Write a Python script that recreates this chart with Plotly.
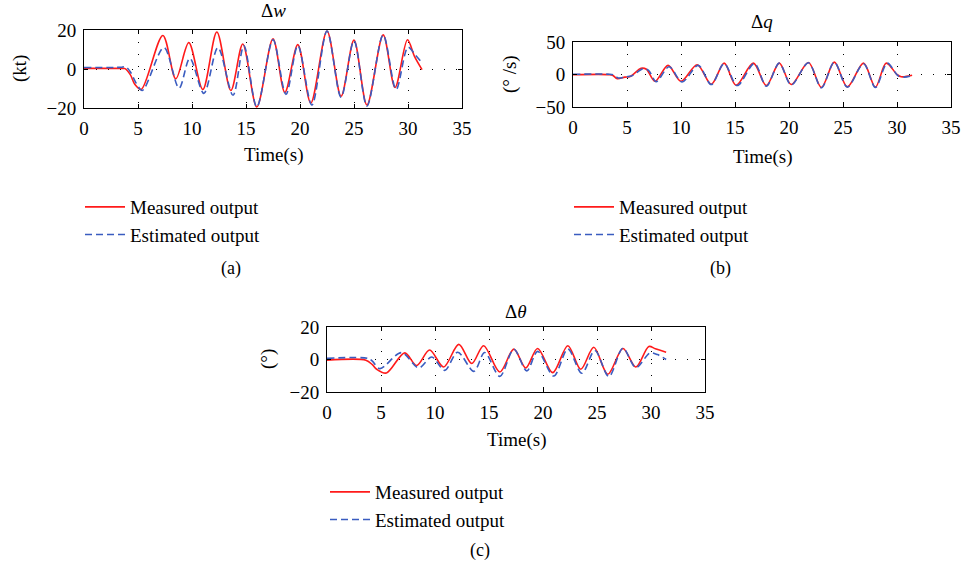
import plotly.graph_objects as go

# ---------------- data ----------------
# Panel (a): delta w (kt)
a_meas_t = [0, 3.5, 3.8, 4.3, 4.7, 5.3, 7.3, 8.5, 9.7, 11.0, 12.3, 13.6, 14.7, 16.0, 17.5, 18.6,
            19.8, 21.0, 22.5, 23.8, 25.0, 26.2, 27.7, 28.8, 29.95, 30.6, 31.3]
a_meas_v = [0.3, 0.3, 0.2, -3, -7.8, -10.5, 17.2, -5, 13.5, -10.5, 19, -11, 12.8, -19.5, 15.5, -12,
            12.5, -17.5, 19.5, -14, 14.8, -18.5, 17.5, -9.5, 15, 6.5, -0.3]
a_est_t = [0, 3.5, 3.85, 4.3, 4.8, 5.4, 7.4, 8.8, 9.8, 11.1, 12.4, 13.8, 14.8, 16.0, 17.5, 18.7,
           19.8, 21.1, 22.5, 23.8, 25.0, 26.2, 27.7, 28.9, 30.0, 30.7, 31.3]
a_est_v = [0.8, 0.9, 1.2, -1.5, -7, -11, 11, -9.8, 5.5, -12.5, 11, -13.5, 12, -19.5, 15, -13,
           12, -18.5, 19.5, -14.5, 14.5, -19, 17.5, -10.5, 11.2, 7, 3.2]

# Panel (b): delta q (deg/s)
b_meas_t = [0, 3.4, 3.7, 4.1, 4.8, 5.3, 6.3, 6.8, 7.6, 8.8, 10.0, 11.5, 12.8, 14.0, 15.1, 16.7,
            17.9, 19.1, 20.2, 21.8, 23.0, 24.2, 25.4, 26.9, 28.0, 29.0, 30.0, 30.4, 31.4]
b_meas_v = [-0.3, -0.3, -1.5, -6.5, -4, -3, 9.5, 8, -10.5, 14, -10.5, 15, -15, 17.5, -16.5, 17.5,
            -17, 17.5, -15.5, 18.5, -20, 19, -19, 17.5, -19.5, 17.5, 0, -3.5, -1.3]
b_est_t = [0, 3.4, 3.8, 4.2, 4.9, 5.4, 6.5, 7.0, 7.7, 8.9, 10.1, 11.6, 12.8, 14.0, 15.2, 16.8,
           17.9, 19.1, 20.2, 21.8, 23.0, 24.2, 25.4, 26.9, 28.0, 29.1, 30.1, 30.7, 31.4]
b_est_v = [0.3, 0.3, -1, -5.5, -3.5, -2.5, 9, 6.5, -11, 12, -11.5, 14, -15.5, 17, -17, 17,
           -18, 17.5, -16, 18, -20.5, 19, -19.5, 16.5, -20, 17.5, -2, -4, -1.5]

# Panel (c): delta theta (deg)
c_meas_t = [0, 3.6, 4.2, 4.6, 5.5, 7.2, 8.3, 9.5, 10.8, 12.2, 13.4, 14.5, 16.0, 17.3, 18.4, 19.5,
            20.9, 22.3, 23.5, 24.7, 26.0, 27.4, 28.6, 29.8, 30.4, 31.4]
c_meas_v = [-0.4, -0.4, -3.2, -6, -8.3, 4.1, -3.7, 5.8, -4.6, 9.3, -2.5, 8.5, -7.7, 6.4, -5.2, 6.8,
            -8.1, 8.5, -6, 7.5, -9.1, 6.8, -4.6, 8, 6.6, 4.5]
c_est_t = [0, 3.8, 4.2, 4.9, 6.9, 8.5, 9.7, 10.9, 12.1, 13.6, 14.6, 16.0, 17.3, 18.5, 19.5,
           21.0, 22.3, 23.6, 24.8, 26.1, 27.4, 28.6, 29.9, 30.6, 31.4]
c_est_v = [0.7, 0.7, -1, -5.6, 4.2, -5.2, 1.5, -6.7, 4.5, -7.3, 4.3, -10.4, 6.3, -7, 5,
           -10.2, 6.5, -8.5, 5.5, -10.5, 7, -5, 4, 3, 0]

x_ticks = [0, 5, 10, 15, 20, 25, 30, 35]
a_yticks = [-20, 0, 20]
b_yticks = [-50, 0, 50]
c_yticks = [-20, 0, 20]

titles = ["Δ<i>w</i>", "Δ<i>q</i>", "Δ<i>θ</i>"]
ylabels = ["(kt)", "(° /s)", "(°)"]
captions = ["(a)", "(b)", "(c)"]
series_names = ["Measured output", "Estimated output"]

# ---------------- styling ----------------
W, H = 962, 571
FONT = "Liberation Serif"
FS = 19
RED = "#ff1a1a"
BLUE = "#3a5cc0"

def px(x):
    return x / W

def py(y):
    return 1 - y / H

# panel boxes in pixels: (left, right, top, bottom)
boxes = [(84, 462, 30, 108), (573, 951, 42, 107), (327, 705, 327, 392)]
yranges = [[-20, 20], [-50, 50], [-20, 20]]
yticks = [a_yticks, b_yticks, c_yticks]
data = [(a_meas_t, a_meas_v, a_est_t, a_est_v),
        (b_meas_t, b_meas_v, b_est_t, b_est_v),
        (c_meas_t, c_meas_v, c_est_t, c_est_v)]
legend_names = ["legend", "legend2", "legend3"]
legend_pos = [(80, 188), (569, 188), (325, 473)]
title_pos = [(273, 10), (762, 22), (516, 312)]
ylabel_pos = [(20, 69), (510, 74), (268, 359)]
xlabel_pos = [(273, 155), (762, 157), (516, 440)]
caption_pos = [(231, 268), (720, 268), (480, 550)]

fig = go.Figure()
layout = dict(width=W, height=H, autosize=False,
              margin=dict(l=0, r=0, t=0, b=0, autoexpand=False),
              paper_bgcolor="white", plot_bgcolor="white",
              font=dict(family=FONT, size=FS, color="black"),
              annotations=[])

for i in range(3):
    mt, mv, et, ev = data[i]
    sfx = "" if i == 0 else str(i + 1)
    fig.add_trace(go.Scatter(x=mt, y=mv, mode="lines", name=series_names[0],
                             line=dict(color=RED, width=1.6, shape="spline", smoothing=0.9),
                             xaxis="x" + sfx, yaxis="y" + sfx, legend=legend_names[i]))
    fig.add_trace(go.Scatter(x=et, y=ev, mode="lines", name=series_names[1],
                             line=dict(color=BLUE, width=1.6, dash="7px,4px", shape="spline", smoothing=0.9),
                             xaxis="x" + sfx, yaxis="y" + sfx, legend=legend_names[i]))
    l, r, t, b = boxes[i]
    common = dict(showline=True, linecolor="black", linewidth=1, mirror="allticks",
                  ticks="inside", ticklen=4, tickcolor="black",
                  showgrid=True, gridcolor="black", gridwidth=1, griddash="1px,11px",
                  zeroline=False, tickfont=dict(family=FONT, size=FS, color="black"),
                  ticklabelstandoff=3, automargin=False)
    layout["xaxis" + sfx] = dict(common, domain=[px(l), px(r)], range=[0, 35],
                                 tickvals=x_ticks, anchor="y" + sfx)
    layout["yaxis" + sfx] = dict(common, domain=[py(b), py(t)], range=yranges[i],
                                 tickvals=yticks[i], anchor="x" + sfx)
    lx, ly = legend_pos[i]
    layout[legend_names[i]] = dict(x=px(lx), y=py(ly), xanchor="left", yanchor="top",
                                   bgcolor="rgba(0,0,0,0)", borderwidth=0,
                                   font=dict(family=FONT, size=FS, color="black"),
                                   tracegroupgap=0, itemwidth=40)
    tx, ty = title_pos[i]
    layout["annotations"].append(dict(x=px(tx), y=py(ty), xref="paper", yref="paper",
                                      text=titles[i], showarrow=False, xanchor="center", yanchor="middle",
                                      font=dict(family=FONT, size=FS)))
    yx, yy = ylabel_pos[i]
    layout["annotations"].append(dict(x=px(yx), y=py(yy), xref="paper", yref="paper",
                                      text=ylabels[i], showarrow=False, textangle=-90,
                                      xanchor="center", yanchor="middle",
                                      font=dict(family=FONT, size=FS)))
    xx, xy = xlabel_pos[i]
    layout["annotations"].append(dict(x=px(xx), y=py(xy), xref="paper", yref="paper",
                                      text="Time(s)", showarrow=False, xanchor="center", yanchor="middle",
                                      font=dict(family=FONT, size=FS)))
    cx, cy = caption_pos[i]
    layout["annotations"].append(dict(x=px(cx), y=py(cy), xref="paper", yref="paper",
                                      text=captions[i], showarrow=False, xanchor="center", yanchor="middle",
                                      font=dict(family=FONT, size=FS - 1)))

fig.update_layout(**layout)
fig.write_html("out.html", config={"displayModeBar": False},
               post_script="document.body.style.margin='0';document.body.style.overflow='hidden';")
